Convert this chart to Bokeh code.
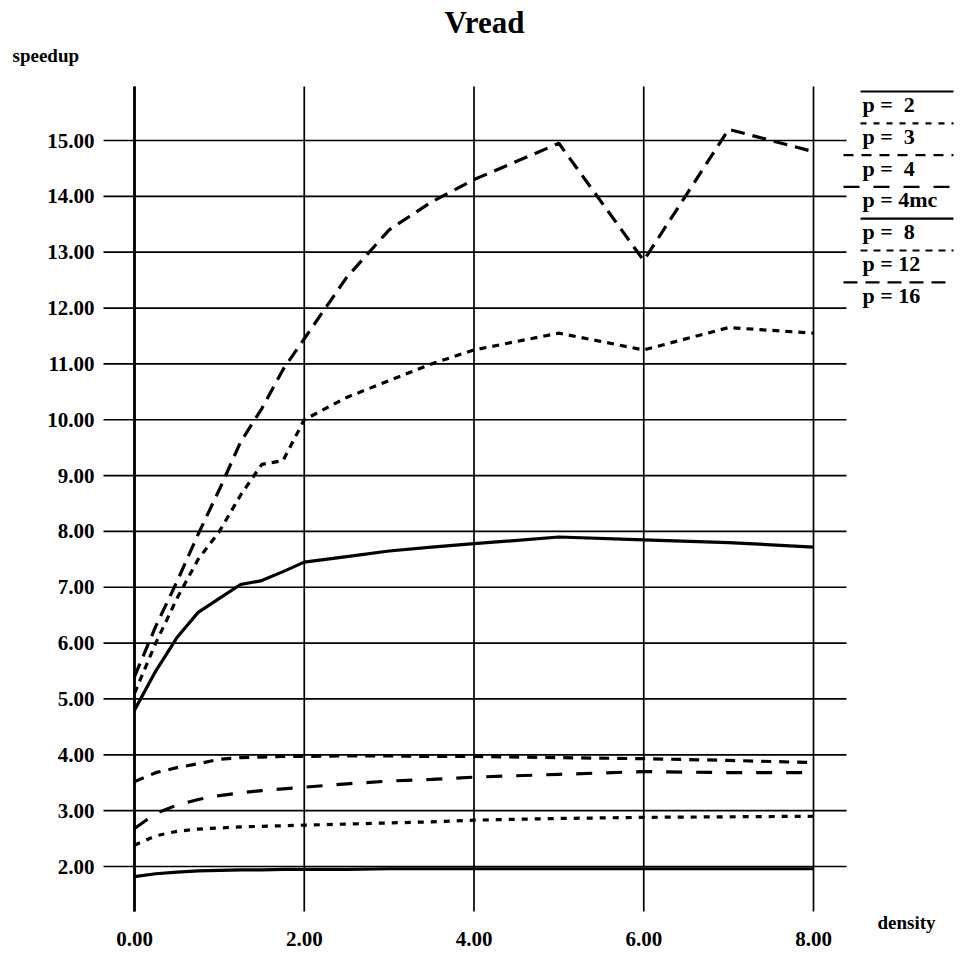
from bokeh.plotting import figure
from bokeh.embed import file_html
from bokeh.resources import INLINE
from bokeh.core.properties import value

# ---------------- data ----------------
density = [0, 0.25, 0.5, 0.75, 1, 1.25, 1.5, 1.75, 2, 2.5, 3, 3.5, 4, 5, 6, 7, 8]
p2 = [1.82, 1.87, 1.90, 1.92, 1.93, 1.94, 1.94, 1.95, 1.95, 1.95, 1.96, 1.96, 1.96, 1.96, 1.96, 1.96, 1.96]
p3 = [2.38, 2.55, 2.63, 2.67, 2.69, 2.71, 2.72, 2.73, 2.74, 2.76, 2.78, 2.80, 2.83, 2.86, 2.88, 2.89, 2.90]
p4 = [3.52, 3.68, 3.77, 3.84, 3.92, 3.95, 3.96, 3.97, 3.97, 3.98, 3.98, 3.97, 3.97, 3.95, 3.93, 3.90, 3.86]
p4mc = [2.68, 2.95, 3.10, 3.20, 3.27, 3.32, 3.36, 3.39, 3.42, 3.48, 3.53, 3.56, 3.60, 3.65, 3.70, 3.68, 3.68]
p8 = [4.80, 5.50, 6.10, 6.55, 6.80, 7.05, 7.12, 7.28, 7.45, 7.55, 7.65, 7.72, 7.78, 7.90, 7.85, 7.80, 7.72]
p12 = [5.10, 6.00, 6.80, 7.50, 8.00, 8.65, 9.20, 9.27, 10.00, 10.40, 10.70, 11.00, 11.25, 11.55, 11.25, 11.65, 11.55]
p16 = [5.40, 6.30, 7.10, 7.95, 8.75, 9.60, 10.20, 10.90, 11.45, 12.55, 13.40, 13.90, 14.30, 14.95, 12.85, 15.20, 14.80]

series_labels = ["p = \u00a02", "p = \u00a03", "p = \u00a04", "p = 4mc", "p = \u00a08", "p = 12", "p = 16"]
series_values = [p2, p3, p4, p4mc, p8, p12, p16]

x_ticks = [0, 2, 4, 6, 8]
x_tick_labels = ["0.00", "2.00", "4.00", "6.00", "8.00"]
y_ticks = [2, 3, 4, 5, 6, 7, 8, 9, 10, 11, 12, 13, 14, 15]
y_tick_labels = ["2.00", "3.00", "4.00", "5.00", "6.00", "7.00", "8.00",
                 "9.00", "10.00", "11.00", "12.00", "13.00", "14.00", "15.00"]

title_text = "Vread"
y_title = "speedup"
x_title = "density"

# ---------------- styles ----------------
dashes = ["solid", "6 7", "10 8", "16 14", "solid", "7 6", "14 8"]
FONT = value("Liberation Serif")

# ---------------- layout helpers (screen px -> data) ----------------
W, H = 955, 957
X0PX, XPU = 134.0, 84.875      # px of x=0, px per unit
Y2PX, YPU = 866.0, 55.846      # px (from top) of y=2, px per unit


def dx(px):
    return (px - X0PX) / XPU


def dy(py):
    return 2 + (Y2PX - py) / YPU


p = figure(width=W, height=H,
           x_range=(dx(0), dx(W)), y_range=(dy(H), dy(0)),
           output_backend="svg", toolbar_location=None,
           x_axis_type=None, y_axis_type=None, min_border=0)
p.outline_line_color = None
p.background_fill_color = "white"
p.border_fill_color = "white"

# grid
p.segment(x0=x_ticks, y0=[dy(86)] * len(x_ticks), x1=x_ticks, y1=[dy(911)] * len(x_ticks),
          line_color="black", line_width=1.7)
p.segment(x0=[x_ticks[0]], y0=[dy(86)], x1=[x_ticks[0]], y1=[dy(911)],
          line_color="black", line_width=2.8)
p.segment(x0=[dx(103)] * len(y_ticks), y0=y_ticks, x1=[dx(846)] * len(y_ticks), y1=y_ticks,
          line_color="black", line_width=1.7)

# data lines
for vals, dash in zip(series_values, dashes):
    p.line(density, vals, line_color="black", line_width=3.2, line_dash=dash)

# tick labels
tick_style = dict(text_font=FONT, text_font_style="bold", text_font_size="21px", text_color="black")
p.text(x=[dx(94)] * len(y_ticks), y=y_ticks, text=y_tick_labels,
       text_align="right", text_baseline="middle", **tick_style)
p.text(x=x_ticks, y=[dy(938)] * len(x_ticks), text=x_tick_labels,
       text_align="center", text_baseline="middle", **tick_style)

# titles
p.text(x=[dx(484)], y=[dy(22)], text=[title_text], text_align="center", text_baseline="middle",
       text_font=FONT, text_font_style="bold", text_font_size="31px", text_color="black")
p.text(x=[dx(12)], y=[dy(55)], text=[y_title], text_align="left", text_baseline="middle",
       text_font=FONT, text_font_style="bold", text_font_size="19px", text_color="black")
p.text(x=[dx(877)], y=[dy(922)], text=[x_title], text_align="left", text_baseline="middle",
       text_font=FONT, text_font_style="bold", text_font_size="19px", text_color="black")

# legend (sample line above each label)
for i, (lab, dash) in enumerate(zip(series_labels, dashes)):
    ty = 104 + 31.8 * i
    ly = ty - 13
    start = 860 if dash == "solid" or dash in ("6 7", "7 6") else 843
    p.line([dx(start), dx(953)], [dy(ly), dy(ly)], line_color="black", line_width=2.2, line_dash=dash)
    p.text(x=[dx(862)], y=[dy(ty)], text=[lab], text_align="left", text_baseline="middle",
           text_font=FONT, text_font_style="bold", text_font_size="22px", text_color="black")

open("out.html", "w").write(file_html(p, INLINE))
